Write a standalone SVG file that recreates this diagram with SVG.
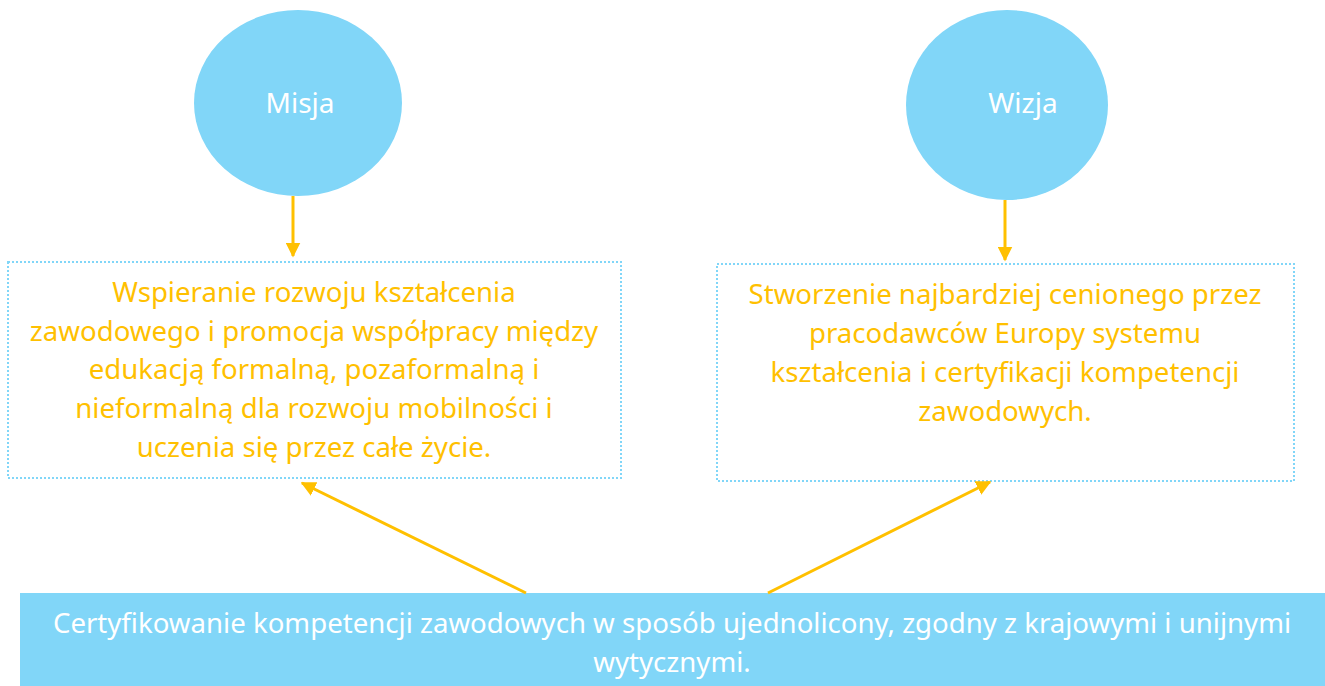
<svg xmlns="http://www.w3.org/2000/svg" width="1325" height="686" viewBox="0 0 1325 686">
<style>
.circle{fill:#81D6F8}
.box{fill:#fff;stroke:#81D6F8;stroke-width:2;stroke-dasharray:2 2}
.ctext{font-family:"Noto Sans",sans-serif;font-size:28px;fill:#fff;text-anchor:middle}
.ytext{font-family:"Noto Sans",sans-serif;font-size:27.6px;fill:#FFC000;text-anchor:middle}
.wtext{font-family:"Noto Sans",sans-serif;font-size:27.6px;fill:#fff;text-anchor:middle}
.conn{stroke:#FFC000;stroke-width:3;fill:none;marker-end:url(#ah)}
</style>
<defs>
<marker id="ah" viewBox="0 0 10 10" refX="9" refY="5" markerWidth="5" markerHeight="5" orient="auto" markerUnits="strokeWidth">
<path d="M0,0 L10,5 L0,10 z" fill="#FFC000"/>
</marker>
</defs>
<rect width="1325" height="686" fill="#fff"/>
<g id="misja">
<ellipse class="circle" cx="298" cy="103" rx="104" ry="93"/>
<text class="ctext" x="300" y="113">Misja</text>
</g>
<g id="wizja">
<ellipse class="circle" cx="1007" cy="105" rx="101" ry="95"/>
<text class="ctext" x="1023" y="113">Wizja</text>
</g>
<g id="misja-text">
<rect class="box" x="8" y="262" width="613" height="216"/>
<text class="ytext" x="314" y="302">Wspieranie rozwoju kształcenia</text>
<text class="ytext" x="314" y="341">zawodowego i promocja współpracy między</text>
<text class="ytext" x="314" y="379">edukacją formalną, pozaformalną i</text>
<text class="ytext" x="314" y="418">nieformalną dla rozwoju mobilności i</text>
<text class="ytext" x="314" y="457">uczenia się przez całe życie.</text>
</g>
<g id="wizja-text">
<rect class="box" x="717" y="264" width="577" height="217"/>
<text class="ytext" x="1005" y="304">Stworzenie najbardziej cenionego przez</text>
<text class="ytext" x="1005" y="343">pracodawców Europy systemu</text>
<text class="ytext" x="1005" y="382">kształcenia i certyfikacji kompetencji</text>
<text class="ytext" x="1005" y="421">zawodowych.</text>
</g>
<g id="certyfikowanie">
<rect x="20" y="593" width="1305" height="93" fill="#81D6F8"/>
<text class="wtext" x="672" y="633">Certyfikowanie kompetencji zawodowych w sposób ujednolicony, zgodny z krajowymi i unijnymi</text>
<text class="wtext" x="672" y="672">wytycznymi.</text>
</g>
<g id="connectors">
<line class="conn" x1="293" y1="196" x2="293" y2="256"/>
<line class="conn" x1="1005" y1="200" x2="1005" y2="260"/>
<line class="conn" x1="526" y1="593" x2="302" y2="483"/>
<line class="conn" x1="768" y1="593" x2="990" y2="482"/>
</g>
</svg>
